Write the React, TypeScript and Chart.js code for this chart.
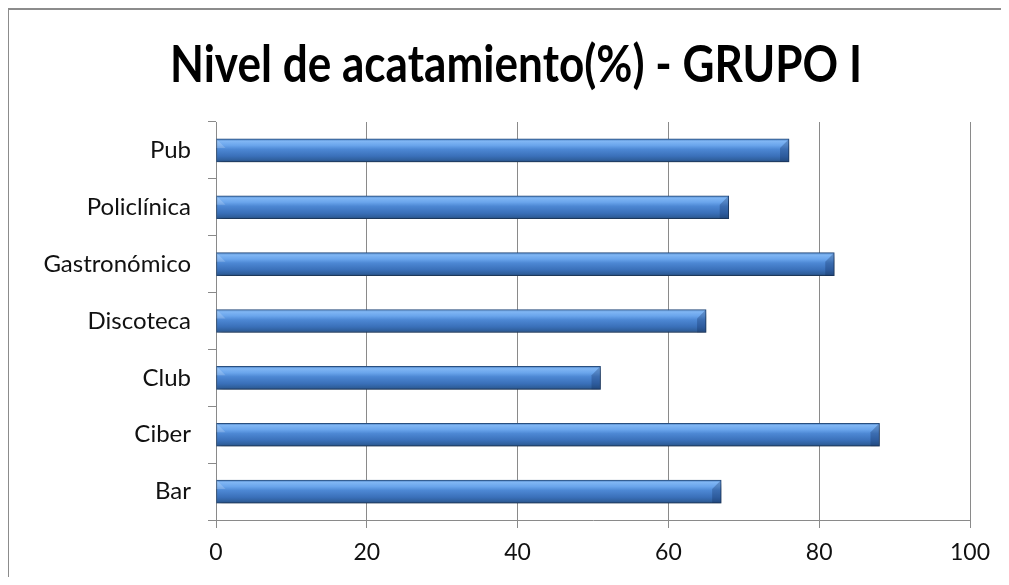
import React, { useEffect, useRef } from "react";
import { Chart, registerables } from "chart.js";

Chart.register(...registerables);

const TITLE = "Nivel de acatamiento(%) - GRUPO I";
const categories = ["Bar", "Ciber", "Club", "Discoteca", "Gastronómico", "Policlínica", "Pub"];
const values = [67, 88, 51, 65, 82, 68, 76];
const xTicks = [0, 20, 40, 60, 80, 100];

const FONT = "Lato, 'Open Sans', sans-serif";

const framePlugin = {
  id: "frame",
  beforeDraw(chart: any) {
    const ctx = chart.ctx;
    ctx.save();
    ctx.fillStyle = "#ffffff";
    ctx.fillRect(0, 0, chart.width, chart.height);
    ctx.fillStyle = "#8c8c8c";
    ctx.fillRect(7, 8, chart.width - 7, 2);
    ctx.fillRect(7, 8, 2, chart.height - 8);
    ctx.restore();
  },
};

const titlePlugin = {
  id: "squeezedTitle",
  afterDraw(chart: any) {
    const ctx = chart.ctx;
    ctx.save();
    ctx.font = `bold 52px ${FONT}`;
    ctx.fillStyle = "#000";
    ctx.textBaseline = "alphabetic";
    ctx.textAlign = "left";
    const w = ctx.measureText(TITLE).width;
    const target = 692;
    const sx = target / w;
    ctx.translate(170, 82);
    ctx.scale(sx, 1);
    ctx.fillText(TITLE, 0, 0);
    ctx.restore();
  },
};

const shadowPlugin = {
  id: "barShadow",
  beforeDatasetsDraw(chart: any) {
    const ctx = chart.ctx;
    ctx.save();
    ctx.shadowColor = "rgba(0,0,0,0.35)";
    ctx.shadowBlur = 6;
    ctx.shadowOffsetX = 2;
    ctx.shadowOffsetY = 4;
  },
  afterDatasetsDraw(chart: any) {
    const ctx = chart.ctx;
    ctx.restore();
    const meta = chart.getDatasetMeta(0);
    meta.data.forEach((bar: any) => {
      const top = bar.y - bar.height / 2;
      const bottom = bar.y + bar.height / 2;
      const x = bar.x;
      const left = bar.base;
      const b = 9;
      ctx.save();
      ctx.beginPath();
      ctx.moveTo(x, top);
      ctx.lineTo(x - b, top + b);
      ctx.lineTo(x - b, bottom);
      ctx.lineTo(x, bottom);
      ctx.closePath();
      ctx.fillStyle = "rgba(15,40,85,0.28)";
      ctx.fill();
      ctx.beginPath();
      ctx.moveTo(left, top);
      ctx.lineTo(left + b, top + b);
      ctx.lineTo(left, top + b);
      ctx.closePath();
      ctx.fillStyle = "rgba(255,255,255,0.18)";
      ctx.fill();
      ctx.restore();
    });
  },
};

export default function App() {
  const ref = useRef<HTMLCanvasElement>(null);
  useEffect(() => {
    document.body.style.overflow = "hidden";
    if (!ref.current) return;
    const chart = new Chart(ref.current, {
      type: "bar",
      data: {
        labels: categories,
        datasets: [
          {
            data: values,
            barThickness: 23,
            borderWidth: 1,
            borderColor: "#2a5182",
            borderSkipped: false,
            backgroundColor: (c: any) => {
              const ch = c.chart;
              const ys = ch.scales && ch.scales.y;
              if (!ys || c.dataIndex === undefined) return "#4a86d0";
              const yc = ys.getPixelForValue(c.dataIndex);
              if (!Number.isFinite(yc)) return "#4a86d0";
              const g = ch.ctx.createLinearGradient(0, yc - 11.5, 0, yc + 11.5);
              g.addColorStop(0, "#4a7fc0");
              g.addColorStop(0.1, "#80b6f4");
              g.addColorStop(0.28, "#6aa5ec");
              g.addColorStop(0.45, "#4d88d4");
              g.addColorStop(0.75, "#3a70b9");
              g.addColorStop(0.92, "#2f5f9c");
              g.addColorStop(1, "#254a7c");
              return g;
            },
          },
        ],
      },
      options: {
        indexAxis: "y",
        responsive: false,
        animation: false,
        layout: { padding: { top: 122, right: 39, left: 0, bottom: 0 } },
        plugins: {
          legend: { display: false },
          title: { display: false },
          tooltip: { enabled: false },
        },
        scales: {
          x: {
            min: 0,
            max: 100,
            afterFit: (s: any) => {
              s.height = 65;
            },
            afterBuildTicks: (s: any) => {
              s.ticks = xTicks.map((v) => ({ value: v }));
            },
            grid: {
              color: "#8a8a8a",
              lineWidth: 1,
              drawTicks: true,
              tickLength: 8,
              tickColor: "#8a8a8a",
            },
            border: { display: true, color: "#8a8a8a", width: 1 },
            ticks: {
              color: "#111",
              font: { family: FONT, size: 23 },
              padding: 11,
            },
          },
          y: {
            reverse: true,
            afterFit: (s: any) => {
              s.width = 216;
            },
            grid: {
              drawOnChartArea: false,
              drawTicks: true,
              tickLength: 8,
              tickColor: "#8a8a8a",
              offset: true,
            },
            border: { display: true, color: "#8a8a8a", width: 1 },
            ticks: {
              color: "#111",
              font: { family: FONT, size: 24 },
              padding: 17,
            },
          },
        },
      },
      plugins: [framePlugin, titlePlugin, shadowPlugin],
    } as any);
    return () => chart.destroy();
  }, []);
  return (
    <div style={{ margin: -8, width: 1009, height: 585, overflow: "hidden" }}>
      <canvas ref={ref} width={1009} height={585} style={{ display: "block" }} />
    </div>
  );
}
